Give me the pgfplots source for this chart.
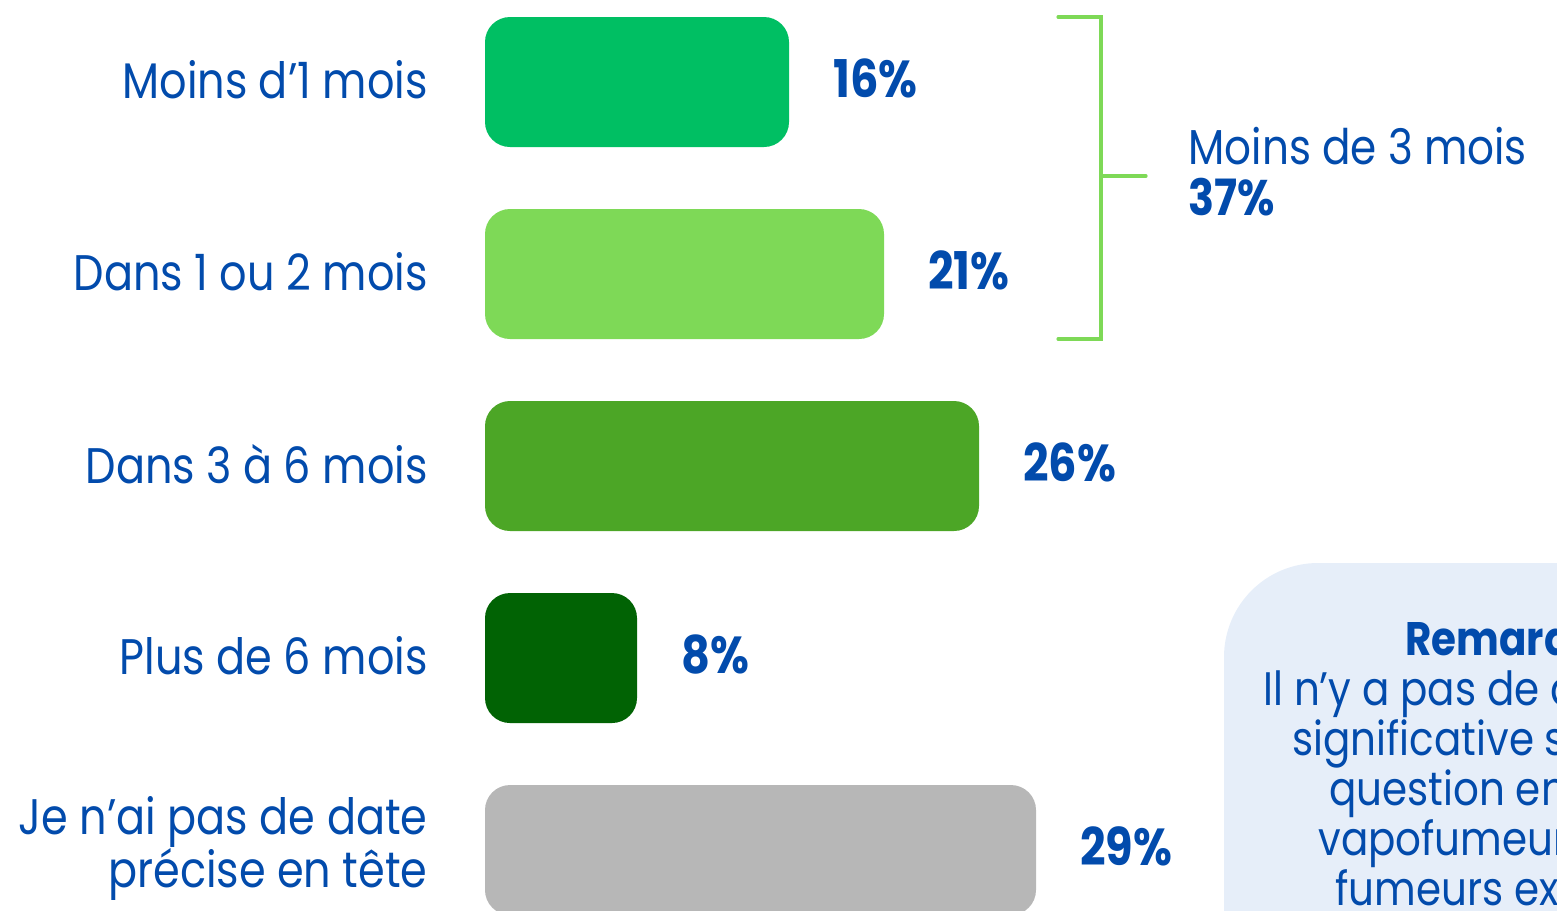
\documentclass[border=0pt]{standalone}
\usepackage{pgfplots}
\pgfplotsset{compat=1.18}
\usepackage{fontspec}
\setmainfont{Poppins}[FakeStretch=0.86]
\definecolor{txt}{HTML}{024BAC}
\definecolor{cA}{HTML}{00BF63}
\definecolor{cB}{HTML}{7ED957}
\definecolor{cC}{HTML}{4CA626}
\definecolor{cD}{HTML}{016304}
\definecolor{cE}{HTML}{B7B7B7}
\definecolor{remark}{HTML}{E6EEF9}
\begin{document}
\begin{tikzpicture}[x=0.5pt,y=-0.5pt]
\path[use as bounding box, clip] (0,0) rectangle (1557,910);
% remark box
\fill[remark, rounded corners=47pt] (1224,563) rectangle (1900,1100);
\begin{axis}[
  at={(242.5pt,-41pt)}, anchor=origin,
  x=9.5pt, y=96pt, y dir=reverse,
  xmin=0, xmax=57, ymin=-0.6, ymax=4.7,
  axis line style={draw=none},
  xtick=\empty,
  ytick={0,1,2,3,4},
  yticklabels={Moins d’1 mois, Dans 1 ou 2 mois, Dans 3 à 6 mois, Plus de 6 mois, {Je n’ai pas de date\\[-0.5pt]précise en tête}},
  major tick length=0pt,
  ytick style={draw=none},
  yticklabel style={align=right, font=\fontsize{25}{22}\selectfont, text=txt, inner sep=0pt, xshift=-28.5pt, yshift=1pt},
  clip=false,
  xbar, bar width=65pt, bar shift=0pt,
  point meta=x,
  /pgf/number format/assume math mode=true,
  nodes near coords={\pgfmathprintnumber{\pgfplotspointmeta}\%},
  every node near coord/.append style={anchor=west, xshift=22pt, yshift=2pt, font=\fontsize{26}{24}\selectfont\bfseries, text=txt, inner sep=0pt},
]
\addplot[fill=cA, draw=none, rounded corners=12.5pt] coordinates {(16,0)};
\addplot[fill=cB, draw=none, rounded corners=12.5pt] coordinates {(21,1)};
\addplot[fill=cC, draw=none, rounded corners=12.5pt] coordinates {(26,2)};
\addplot[fill=cD, draw=none, rounded corners=12.5pt] coordinates {(8,3)};
\addplot[fill=cE, draw=none, rounded corners=12.5pt] coordinates {(29,4)};
\end{axis}
% bracket
\draw[cB, line width=1.6pt, line cap=round] (1058,17) -- (1101,17) -- (1101,339) -- (1058,339);
\draw[cB, line width=1.6pt, line cap=round] (1101,176) -- (1146,176);
\node[anchor=base west, inner sep=0pt, text=txt, font=\fontsize{24.5}{24}\selectfont] at (1188,164) {Moins de 3 mois};
\node[anchor=base west, inner sep=0pt, text=txt, font=\fontsize{25}{24}\selectfont\bfseries] at (1188,215) {37\%};
% remark text
\begin{scope}[every node/.style={anchor=base west, inner sep=0pt, text=txt, font=\fontsize{23.5}{24}\selectfont}]
\node[font=\fontsize{23.5}{24}\selectfont\bfseries] at (1405,655) {Remarque};
\node at (1263,705) {Il n’y a pas de différence};
\node at (1292,755) {significative sur cette};
\node at (1329,805) {question entre les};
\node at (1318,855) {vapofumeurs et les};
\node at (1335,905) {fumeurs exclusifs.};
\end{scope}
\end{tikzpicture}
\end{document}
